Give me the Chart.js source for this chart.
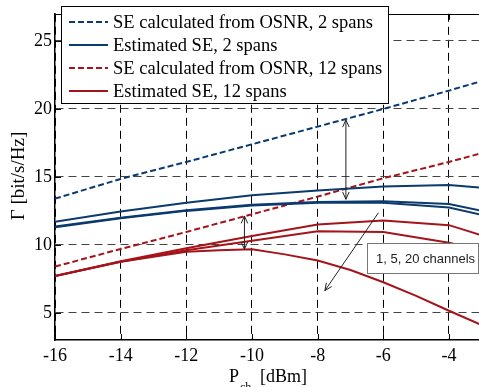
<!DOCTYPE html>
<html><head><meta charset="utf-8">
<script src="https://cdn.jsdelivr.net/npm/chart.js@4"></script>
<style>html,body{margin:0;padding:0;background:#fff;overflow:hidden}#wrap{width:479px;height:387px;position:relative}
#fp{position:absolute;left:-999px;top:0;font-family:"Liberation Serif";}#fp2{position:absolute;left:-999px;top:0;font-family:"Liberation Sans";}</style>
</head><body><div id="wrap"><canvas id="c" width="479" height="387"></canvas></div>
<span id="fp">Tg 0123 SE</span><span id="fp2">1, 5, 20 channels</span>
<script>
// ---- data ----
const xTicks = [-16, -14, -12, -10, -8, -6, -4];
const yTicks = [5, 10, 15, 20, 25];
const pch = [-16, -14, -12, -10, -8, -6, -4, -3];
const seOsnr2 = [13.4, 14.85, 16.1, 17.4, 18.7, 20.0, 21.35, 22.05];
const seOsnr12 = [8.4, 9.7, 10.95, 12.25, 13.55, 14.9, 16.1, 16.75];
const est2_1ch = [11.7, 12.45, 13.1, 13.65, 14.0, 14.3, 14.4, 14.2];
const est2_5ch = [11.35, 12.0, 12.55, 12.95, 13.15, 13.2, 13.0, 12.5];
const est2_20ch = [11.3, 11.95, 12.5, 12.9, 13.1, 13.1, 12.75, 12.2];
const est12_1ch = [7.7, 8.8, 9.75, 10.65, 11.5, 11.8, 11.45, 10.7];
const est12_5ch = [7.7, 8.75, 9.6, 10.3, 11.0, 10.95, 10.15, 9.6];
const pch20 = [-16, -14, -12, -11, -10, -9, -8, -7, -6, -5, -4, -3];
const est12_20ch = [7.7, 8.75, 9.5, 9.6, 9.68, 9.3, 8.85, 8.15, 7.25, 6.25, 5.15, 4.1];
const legendLabels = ['SE calculated from OSNR, 2 spans', 'Estimated SE, 2 spans', 'SE calculated from OSNR, 12 spans', 'Estimated SE, 12 spans'];
const noteText = '1, 5, 20 channels';

const SERIF = '"Liberation Serif", "Times New Roman", Times, serif';
const SANS = '"Liberation Sans", Arial, Helvetica, sans-serif';
const BLUE = '#0a3a6e', RED = '#a5141b';
const pts = (xs, ys) => xs.map((x, i) => ({x, y: ys[i]}));
function ds(xs, ys, color, dashed) {
  return {data: pts(xs, ys), borderColor: color, borderWidth: 2, borderDash: dashed ? [6, 3] : [],
    pointRadius: 0, fill: false, tension: 0};
}
const datasets = [
  ds(pch, seOsnr2, BLUE, true),
  ds(pch, est2_1ch, BLUE, false),
  ds(pch, est2_5ch, BLUE, false),
  ds(pch, est2_20ch, BLUE, false),
  ds(pch, seOsnr12, RED, true),
  ds(pch, est12_1ch, RED, false),
  ds(pch, est12_5ch, RED, false),
  ds(pch20, est12_20ch, RED, false)
];
const legendStyles = [[BLUE, true], [BLUE, false], [RED, true], [RED, false]];

function arrowHead(ctx, x1, y1, x2, y2) {
  const a = Math.atan2(y2 - y1, x2 - x1), L = 8, h = 0.42;
  ctx.beginPath();
  ctx.moveTo(x2 - L * Math.cos(a - h), y2 - L * Math.sin(a - h));
  ctx.lineTo(x2, y2);
  ctx.lineTo(x2 - L * Math.cos(a + h), y2 - L * Math.sin(a + h));
  ctx.stroke();
}
function arrow(ctx, c, x1, y1, x2, y2, both) {
  const X = c.scales.x, Y = c.scales.y;
  const p1 = [X.getPixelForValue(x1), Y.getPixelForValue(y1)];
  const p2 = [X.getPixelForValue(x2), Y.getPixelForValue(y2)];
  ctx.beginPath(); ctx.moveTo(p1[0], p1[1]); ctx.lineTo(p2[0], p2[1]); ctx.stroke();
  arrowHead(ctx, p1[0], p1[1], p2[0], p2[1]);
  if (both) arrowHead(ctx, p2[0], p2[1], p1[0], p1[1]);
}

const deco = {
  id: 'deco',
  afterDraw(c) {
    const ctx = c.ctx, a = c.chartArea, X = c.scales.x, Y = c.scales.y;
    ctx.save();
    ctx.strokeStyle = '#000'; ctx.lineWidth = 1; ctx.setLineDash([]);
    ctx.beginPath(); ctx.moveTo(a.left, Math.round(a.top) + 0.5); ctx.lineTo(a.right, Math.round(a.top) + 0.5); ctx.stroke();
    xTicks.forEach(v => { const px = Math.round(X.getPixelForValue(v)) + 0.5;
      ctx.beginPath(); ctx.moveTo(px, a.bottom); ctx.lineTo(px, a.bottom - 6); ctx.stroke();
      ctx.beginPath(); ctx.moveTo(px, a.top); ctx.lineTo(px, a.top + 6); ctx.stroke(); });
    yTicks.forEach(v => { const py = Math.round(Y.getPixelForValue(v)) + 0.5;
      ctx.beginPath(); ctx.moveTo(a.left, py); ctx.lineTo(a.left + 6, py); ctx.stroke(); });
    ctx.lineWidth = 1; ctx.strokeStyle = '#222';
    arrow(ctx, c, -7.14, 19.2, -7.14, 13.35, true);
    arrow(ctx, c, -10.23, 12.12, -10.23, 9.68, true);
    arrow(ctx, c, -6.15, 12.36, -7.78, 6.63, false);
    ctx.fillStyle = '#fff'; ctx.strokeStyle = '#777';
    ctx.fillRect(367.5, 243.5, 111, 30); ctx.strokeRect(367.5, 243.5, 111, 30);
    ctx.fillStyle = '#222'; ctx.font = '13px ' + SANS;
    ctx.textBaseline = 'middle'; ctx.textAlign = 'left';
    ctx.fillText(noteText, 376, 259);
    ctx.fillStyle = '#fff'; ctx.strokeStyle = '#000';
    ctx.fillRect(61.5, 6.5, 327, 97); ctx.strokeRect(61.5, 6.5, 327, 97);
    ctx.font = '18.5px ' + SERIF;
    legendLabels.forEach((t, i) => {
      const y = 22 + i * 23;
      const [col, dashed] = legendStyles[i];
      ctx.strokeStyle = col; ctx.lineWidth = 2; ctx.setLineDash(dashed ? [6, 3] : []);
      ctx.beginPath(); ctx.moveTo(69, y); ctx.lineTo(108, y); ctx.stroke();
      ctx.setLineDash([]);
      ctx.fillStyle = '#000'; ctx.fillText(t, 113, y + 1);
    });
    ctx.fillStyle = '#000'; ctx.textBaseline = 'alphabetic';
    ctx.font = '18px ' + SERIF;
    ctx.fillText('P', 229, 382);
    ctx.font = '12px ' + SERIF;
    ctx.fillText('ch', 240, 391);
    ctx.font = '18px ' + SERIF;
    ctx.fillText('[dBm]', 260, 382);
    ctx.save();
    ctx.translate(24, 176); ctx.rotate(-Math.PI / 2);
    ctx.textAlign = 'center';
    ctx.font = '19px ' + SERIF;
    ctx.fillText('\u0393 [bit/s/Hz]', 0, 0);
    ctx.restore();
    ctx.restore();
  }
};

function build() {
  const tickFont = {family: SERIF, size: 18};
  new Chart(document.getElementById('c'), {
    type: 'line',
    data: {datasets},
    options: {
      responsive: false, animation: false, devicePixelRatio: 1,
      layout: {padding: {top: 12, left: 0, right: 0, bottom: 0}},
      plugins: {legend: {display: false}, tooltip: {enabled: false}},
      scales: {
        x: {type: 'linear', min: -16, max: -3.086,
          afterBuildTicks: s => { s.ticks = xTicks.map(v => ({value: v})); },
          afterFit: s => { s.height = 47; },
          ticks: {font: tickFont, color: '#000', padding: 5, maxRotation: 0, autoSkip: false},
          grid: {color: '#000', lineWidth: 1, drawTicks: false},
          border: {display: true, color: '#000', width: 1.5, dash: [8, 5]}},
        y: {type: 'linear', min: 3, max: 27,
          afterBuildTicks: s => { s.ticks = yTicks.map(v => ({value: v})); },
          afterFit: s => { s.width = 55; },
          ticks: {font: tickFont, color: '#000', padding: 3, autoSkip: false},
          grid: {color: '#444', lineWidth: 1, drawTicks: false},
          border: {display: true, color: '#000', width: 1.5, dash: [8, 5]}}
      }
    },
    plugins: [deco]
  });
}
const loads = (document.fonts && document.fonts.load) ?
  Promise.all([document.fonts.load('18px "Liberation Serif"', 'SE0123'), document.fonts.load('13px "Liberation Sans"', '1, 5')]).catch(() => {}) :
  Promise.resolve();
loads.then(build, build);
</script></body></html>
